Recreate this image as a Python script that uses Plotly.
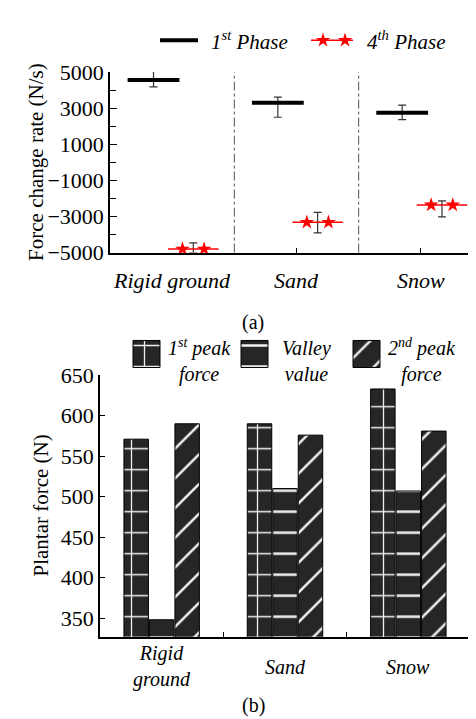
import plotly.graph_objects as go

# ---------------- data ----------------
surfaces = ["Rigid ground", "Sand", "Snow"]

# (a) force change rate (N/s)
phase1 = [4560, 3300, 2750]
phase1_err_plus = [530, 310, 420]
phase1_err_minus = [380, 800, 380]
phase4 = [-4800, -3320, -2360]
phase4_err_plus = [335, 550, 230]
phase4_err_minus = [200, 590, 660]
rate_ticks = [-5000, -3000, -1000, 1000, 3000, 5000]
rate_minor = [-4000, -2000, 0, 2000, 4000]

# (b) plantar force (N)
peak1 = [571, 590, 633]
valley = [348, 510, 507]
peak2 = [590, 576, 581]
force_ticks = [350, 400, 450, 500, 550, 600, 650]

W, H = 476, 719
FONT = "Times New Roman, Liberation Serif, DejaVu Serif, serif"
DARK = "#262626"

n = len(surfaces)
idx = list(range(n))
off1, off4 = -0.15, 0.17

fig = go.Figure()

# ---------- panel (a) ----------
fig.add_trace(go.Scatter(
    x=[i + 0.5 + off1 for i in idx], y=phase1, mode="markers", xaxis="x", yaxis="y",
    marker=dict(symbol="line-ew", size=37, line=dict(width=4, color="black")),
    error_y=dict(type="data", symmetric=False, array=phase1_err_plus,
                 arrayminus=phase1_err_minus, color="#333", thickness=1.2, width=4),
    showlegend=False, hoverinfo="skip"))
fig.add_trace(go.Scatter(
    x=[i + 0.5 + off4 for i in idx], y=phase4, mode="markers", xaxis="x", yaxis="y",
    marker=dict(symbol="line-ew", size=36, line=dict(width=1.5, color="red")),
    error_y=dict(type="data", symmetric=False, array=phase4_err_plus,
                 arrayminus=phase4_err_minus, color="#333", thickness=1.2, width=4),
    cliponaxis=False, showlegend=False, hoverinfo="skip"))
star_x, star_y = [], []
for i, v in zip(idx, phase4):
    for d in (-0.087, 0.087):
        star_x.append(i + 0.5 + off4 + d)
        star_y.append(v)
fig.add_trace(go.Scatter(
    x=star_x, y=star_y, mode="markers", xaxis="x", yaxis="y",
    marker=dict(symbol="star", size=11, color="red", line=dict(width=0)),
    cliponaxis=False, showlegend=False, hoverinfo="skip"))

# ---------- panel (b) ----------
pat_common = dict(size=21, solidity=0.12, fgcolor="#f0f0f0", bgcolor=DARK, fillmode="replace")
for vals, shape, name in [(peak1, "+", "1st peak force"), (valley, "-", "Valley value"),
                          (peak2, "/", "2nd peak force")]:
    fig.add_trace(go.Bar(
        x=idx, y=vals, xaxis="x2", yaxis="y2", name=name,
        marker=dict(color=DARK, line=dict(color="black", width=1),
                    pattern=dict(shape=shape, **pat_common)),
        showlegend=False, hoverinfo="skip"))

# ---------- legends (drawn on a pixel overlay axis) ----------
fig.add_trace(go.Scatter(x=[152, 190], y=[21, 21], mode="lines", xaxis="x3", yaxis="y3",
                         line=dict(color="black", width=4), showlegend=False, hoverinfo="skip"))
fig.add_trace(go.Scatter(x=[303, 345], y=[21, 21], mode="lines", xaxis="x3", yaxis="y3",
                         line=dict(color="red", width=1.5), showlegend=False, hoverinfo="skip"))
fig.add_trace(go.Scatter(x=[315, 337], y=[21, 21], mode="markers", xaxis="x3", yaxis="y3",
                         marker=dict(symbol="star", size=11, color="red"),
                         showlegend=False, hoverinfo="skip"))
for x0, shape in [(125, "+"), (233, "-"), (345, "/")]:
    fig.add_trace(go.Scatter(
        x=[x0, x0 + 27, x0 + 27, x0, x0], y=[332, 332, 360, 360, 332], mode="lines",
        fill="toself", fillcolor=DARK, xaxis="x3", yaxis="y3",
        fillpattern=dict(shape=shape, **pat_common),
        line=dict(color="black", width=1), showlegend=False, hoverinfo="skip"))

annotations = []
def txt(x, y, s, size=21, xanchor="center", **kw):
    annotations.append(dict(x=x, y=y, xref="x3", yref="y3", text=s, showarrow=False,
                            xanchor=xanchor, yanchor="middle",
                            font=dict(family=FONT, size=size, color="black"), **kw))

txt(201, 21, "<i>1<sup>st</sup> Phase</i>", xanchor="left")
txt(357, 21, "<i>4<sup>th</sup> Phase</i>", xanchor="left")
txt(191, 353, "<i>1<sup>st</sup> peak<br>force</i>", size=20, align="center")
txt(298, 353, "<i>Valley<br>value</i>", size=20, align="center")
txt(414, 353, "<i>2<sup>nd</sup> peak<br>force</i>", size=20, align="center")
txt(245, 313, "(a)", size=20)
txt(245, 710, "(b)", size=20)
txt(28, 147, "Force change rate (N/s)", textangle=-90)
txt(33, 503, "Plantar force (N)", textangle=-90)

# category labels
for i, s in enumerate(surfaces):
    annotations.append(dict(x=i + 0.5, y=1 - 270 / H, xref="x", yref="paper", text=f"<i>{s}</i>",
                            showarrow=False, font=dict(family=FONT, size=22, color="black"),
                            yanchor="middle"))
    annotations.append(dict(x=i, y=1 - 670 / H, xref="x2", yref="paper",
                            text="<i>" + "<br>".join(s.split(" ")) + "</i>",
                            showarrow=False, font=dict(family=FONT, size=20, color="black"),
                            yanchor="middle", align="center"))

shapes = []
for b in range(1, n):
    shapes.append(dict(type="line", xref="x", yref="y domain", x0=b, x1=b, y0=0, y1=1,
                       line=dict(color="#555", width=1, dash="dashdot")))

tickfont = dict(family=FONT, size=22, color="black")
fig.update_layout(
    width=W, height=H, margin=dict(l=0, r=0, t=0, b=0),
    paper_bgcolor="white", plot_bgcolor="rgba(0,0,0,0)",
    font=dict(family=FONT, color="black"),
    barmode="group", bargap=0.38, bargroupgap=0.04,
    annotations=annotations, shapes=shapes,
    xaxis=dict(domain=[102 / W, 475 / W], range=[0, n], anchor="y",
               showline=True, linecolor="black", linewidth=1.5, showgrid=False, zeroline=False,
               tickmode="array", tickvals=[], showticklabels=False,
               minor=dict(tickmode="array", tickvals=[1.5, 2.5, 3], ticks="inside",
                          ticklen=5, tickcolor="black", showgrid=False)),
    yaxis=dict(domain=[1 - 241 / H, 1 - 54 / H], range=[-5000, 5000], anchor="x",
               showline=True, linecolor="black", linewidth=1.5, showgrid=False, zeroline=False,
               tickmode="array", tickvals=rate_ticks, ticks="inside", ticklen=7,
               tickcolor="black", tickfont=tickfont,
               minor=dict(tickmode="array", tickvals=rate_minor, ticks="inside",
                          ticklen=6, tickcolor="black", showgrid=False)),
    xaxis2=dict(domain=[92 / W, 462 / W], range=[-0.5, n - 0.5], anchor="y2",
                showline=True, linecolor="black", linewidth=1.5, showgrid=False, zeroline=False,
                tickmode="array", tickvals=[], showticklabels=False,
                minor=dict(tickmode="array", tickvals=[i + 0.5 for i in idx], ticks="inside",
                           ticklen=5, tickcolor="black", showgrid=False)),
    yaxis2=dict(domain=[1 - 639 / H, 1 - 368 / H], range=[327, 650], anchor="x2",
                showline=True, linecolor="black", linewidth=1.5, showgrid=False, zeroline=False,
                tickmode="array", tickvals=force_ticks, ticks="inside", ticklen=5,
                tickcolor="black", tickfont=tickfont),
    xaxis3=dict(domain=[0, 1], range=[0, W], visible=False, fixedrange=True, anchor="y3"),
    yaxis3=dict(domain=[0, 1], range=[H, 0], visible=False, fixedrange=True, anchor="x3"),
)

fig.write_html("out.html")
